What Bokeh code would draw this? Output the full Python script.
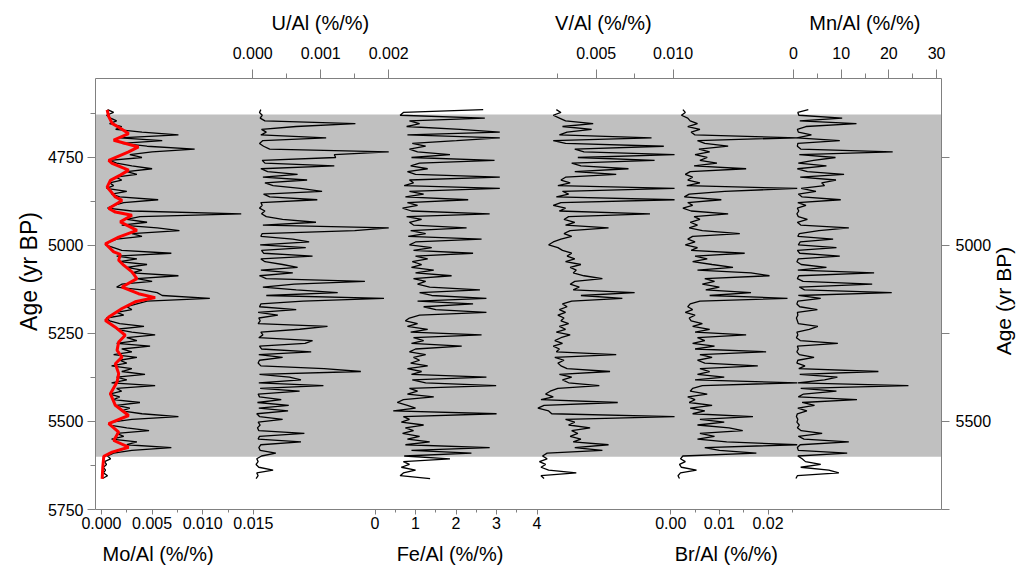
import math
from bokeh.plotting import figure
from bokeh.models import Range1d, LinearAxis, FixedTicker, BoxAnnotation
from bokeh.embed import file_html
from bokeh.resources import INLINE

# ---------------- data ----------------
ages = list(range(4614, 5663, 8))  # sample ages (yr BP), 132 samples

mo = [0.0006,0.0012,0.0005,0.0009,0.0015,0.0008,0.0020,0.0014,0.0040,0.0076,
      0.0018,0.0060,0.0020,0.0045,0.0092,0.0050,0.0028,0.0040,0.0008,0.0015,
      0.0030,0.0050,0.0025,0.0035,0.0014,0.0020,0.0008,0.0012,0.0005,0.0025,
      0.0010,0.0018,0.0056,0.0022,0.0012,0.0006,0.0030,0.0138,0.0038,0.0025,
      0.0045,0.0020,0.0055,0.0077,0.0030,0.0040,0.0015,0.0008,0.0004,0.0012,
      0.0020,0.0069,0.0015,0.0035,0.0018,0.0045,0.0025,0.0040,0.0030,0.0076,
      0.0035,0.0050,0.0020,0.0015,0.0040,0.0055,0.0060,0.0107,0.0045,0.0035,
      0.0025,0.0030,0.0015,0.0022,0.0005,0.0008,0.0018,0.0042,0.0015,0.0030,
      0.0053,0.0025,0.0035,0.0015,0.0048,0.0020,0.0030,0.0012,0.0035,0.0018,
      0.0025,0.0010,0.0030,0.0020,0.0043,0.0015,0.0025,0.0010,0.0053,0.0015,
      0.0020,0.0008,0.0018,0.0012,0.0038,0.0015,0.0028,0.0020,0.0040,0.0076,
      0.0030,0.0010,0.0008,0.0025,0.0047,0.0015,0.0022,0.0010,0.0035,0.0025,
      0.0069,0.0030,0.0012,0.0006,0.0009,0.0003,0.0005,0.0002,0.0004,0.0002,
      0.0006,0.0001]

mo_smooth_age = [4615,4634,4653,4667,4682,4701,4720,4734,4758,4767,4786,4800,4815,
                 4834,4862,4872,4895,4905,4914,4933,4957,4976,4995,5018,5025,5042,
                 5056,5075,5094,5118,5137,5148,5160,5179,5203,5213,5232,5255,5274,
                 5298,5317,5336,5364,5388,5421,5454,5483,5506,5530,5554,5573,5587,
                 5599,5630,5663]
mo_smooth = [0.00056,0.00072,0.00105,0.00186,0.00268,0.00121,0.00366,0.00268,0.00072,
             0.00105,0.00268,0.00186,0.00088,0.00056,0.00137,0.00203,0.00072,0.00137,
             0.00301,0.00186,0.00350,0.00170,0.00039,0.00121,0.00186,0.00170,0.00219,
             0.00301,0.00350,0.00203,0.00366,0.00530,0.00333,0.00203,0.00072,0.00039,
             0.00137,0.00235,0.00170,0.00154,0.00203,0.00137,0.00170,0.00154,0.00088,
             0.00137,0.00268,0.00072,0.00170,0.00121,0.00268,0.00105,0.00023,0.00013,
             0.00007]

u = [0.00012,0.00010,0.00014,0.00011,0.00018,0.00151,0.00064,0.00013,0.00020,0.00012,
     0.00108,0.00015,0.00010,0.00016,0.00025,0.00200,0.00120,0.00122,0.00014,0.00018,
     0.00120,0.00012,0.00022,0.00066,0.00015,0.00080,0.00018,0.00030,0.00070,0.00102,
     0.00016,0.00025,0.00095,0.00012,0.00014,0.00010,0.00018,0.00013,0.00020,0.00044,
     0.00093,0.00015,0.00200,0.00150,0.00014,0.00012,0.00059,0.00083,0.00011,0.00078,
     0.00013,0.00016,0.00088,0.00012,0.00018,0.00044,0.00066,0.00012,0.00059,0.00010,
     0.00020,0.00165,0.00061,0.00015,0.00064,0.00125,0.00020,0.00193,0.00074,0.00012,
     0.00010,0.00064,0.00008,0.00037,0.00009,0.00011,0.00008,0.00110,0.00069,0.00012,
     0.00015,0.00009,0.00088,0.00077,0.00010,0.00013,0.00086,0.00009,0.00044,0.00010,
     0.00008,0.00012,0.00105,0.00159,0.00010,0.00054,0.00071,0.00009,0.00104,0.00011,
     0.00069,0.00008,0.00010,0.00042,0.00007,0.00053,0.00009,0.00052,0.00006,0.00010,
     0.00044,0.00008,0.00011,0.00007,0.00009,0.00076,0.00010,0.00008,0.00071,0.00012,
     0.00009,0.00011,0.00034,0.00013,0.00006,0.00008,0.00005,0.00009,0.00030,0.00006,
     0.00008,0.00005]

fe = [2.67,0.70,0.62,2.71,0.85,1.10,0.78,2.10,3.08,0.80,
      3.08,2.01,0.92,1.25,0.85,1.05,1.85,0.90,2.95,1.10,
      0.88,1.30,0.80,1.00,3.08,0.85,0.95,0.72,3.08,0.85,
      1.20,0.75,2.30,0.80,1.05,0.68,0.90,2.83,0.78,1.15,
      0.85,0.95,2.26,0.88,1.25,0.82,2.63,1.00,0.85,1.40,
      0.95,2.42,1.00,1.30,0.92,1.15,0.90,1.45,1.00,1.89,
      0.95,1.25,1.05,1.35,2.59,1.10,1.40,2.75,1.05,2.42,
      1.20,1.50,2.75,1.10,0.85,0.75,1.05,0.80,1.30,0.88,
      2.63,0.95,1.20,0.90,2.14,1.00,0.85,1.25,0.95,1.10,
      0.88,1.30,0.80,1.15,0.90,2.75,0.92,1.25,2.99,0.85,
      1.05,0.80,1.45,0.70,0.55,0.80,1.00,0.45,3.00,0.70,
      0.85,0.65,1.20,0.75,0.95,0.68,1.10,0.80,1.35,0.75,
      2.83,0.90,2.38,0.72,1.85,0.70,0.85,0.65,1.00,0.70,
      0.62,1.36]

v = [0.0024,0.0027,0.0022,0.0026,0.0030,0.0048,0.0028,0.0047,0.0031,0.0026,
     0.0086,0.0022,0.0030,0.0094,0.0036,0.0042,0.0101,0.0038,0.0088,0.0034,
     0.0040,0.0071,0.0036,0.0063,0.0030,0.0027,0.0033,0.0025,0.0101,0.0028,
     0.0032,0.0024,0.0101,0.0027,0.0022,0.0030,0.0026,0.0085,0.0032,0.0029,
     0.0036,0.0030,0.0058,0.0033,0.0029,0.0034,0.0027,0.0022,0.0019,0.0025,
     0.0028,0.0034,0.0031,0.0036,0.0030,0.0040,0.0033,0.0037,0.0035,0.0042,
     0.0054,0.0036,0.0033,0.0039,0.0035,0.0075,0.0040,0.0067,0.0034,0.0028,
     0.0031,0.0026,0.0030,0.0025,0.0029,0.0027,0.0032,0.0026,0.0030,0.0024,
     0.0033,0.0027,0.0023,0.0028,0.0022,0.0026,0.0024,0.0063,0.0023,0.0029,
     0.0025,0.0027,0.0031,0.0059,0.0026,0.0034,0.0028,0.0032,0.0052,0.0025,
     0.0020,0.0017,0.0022,0.0014,0.0064,0.0016,0.0012,0.0019,0.0021,0.0101,
     0.0030,0.0036,0.0032,0.0046,0.0034,0.0038,0.0033,0.0040,0.0035,0.0058,
     0.0036,0.0054,0.0018,0.0015,0.0018,0.0013,0.0017,0.0014,0.0019,0.0037,
     0.0014,0.0016]

br = [0.0025,0.0030,0.0022,0.0035,0.0040,0.0055,0.0035,0.0060,0.0042,0.0050,
      0.0260,0.0055,0.0070,0.0118,0.0058,0.0080,0.0050,0.0075,0.0060,0.0095,
      0.0048,0.0155,0.0040,0.0030,0.0045,0.0035,0.0060,0.0033,0.0260,0.0111,
      0.0038,0.0028,0.0104,0.0035,0.0045,0.0025,0.0042,0.0118,0.0048,0.0060,
      0.0040,0.0055,0.0038,0.0065,0.0142,0.0045,0.0035,0.0050,0.0030,0.0055,
      0.0042,0.0152,0.0050,0.0075,0.0045,0.0085,0.0128,0.0055,0.0165,0.0203,
      0.0070,0.0090,0.0065,0.0100,0.0072,0.0165,0.0080,0.0240,0.0060,0.0040,
      0.0035,0.0045,0.0030,0.0050,0.0038,0.0042,0.0065,0.0045,0.0080,0.0050,
      0.0155,0.0055,0.0070,0.0045,0.0090,0.0050,0.0196,0.0060,0.0085,0.0055,
      0.0070,0.0179,0.0060,0.0080,0.0055,0.0110,0.0050,0.0260,0.0065,0.0045,
      0.0040,0.0075,0.0035,0.0050,0.0038,0.0085,0.0040,0.0070,0.0045,0.0169,
      0.0060,0.0110,0.0055,0.0120,0.0148,0.0060,0.0090,0.0055,0.0115,0.0260,
      0.0070,0.0100,0.0176,0.0025,0.0020,0.0030,0.0018,0.0022,0.0053,0.0020,
      0.0015,0.0018]

mn = [3.1,0.9,1.1,10.2,1.3,13.2,2.6,0.8,1.0,3.75,
      0.7,9.7,0.9,0.8,1.5,20.8,1.2,8.8,4.2,1.0,
      6.9,0.8,2.9,10.6,1.4,8.9,5.9,6.5,1.6,4.7,
      1.0,1.8,9.9,0.9,2.6,0.8,1.1,0.7,1.0,2.9,
      0.8,1.5,11.6,5.3,1.2,0.9,8.3,1.4,1.0,9.0,
      0.8,1.3,9.7,1.0,0.7,1.6,6.9,0.9,16.9,1.1,
      0.8,2.0,16.5,1.2,2.3,20.6,1.0,5.7,0.9,0.7,
      1.3,5.0,0.8,0.9,0.6,0.8,1.0,5.1,3.3,0.7,
      0.9,0.6,1.4,9.3,0.8,1.0,0.7,1.2,4.3,0.9,
      0.7,2.4,1.1,17.8,1.3,9.2,6.5,0.9,24.1,1.5,
      9.0,2.1,1.0,13.3,1.8,4.4,0.9,2.8,0.8,0.6,
      0.9,0.7,1.2,0.8,1.6,6.0,1.0,2.2,11.6,1.4,
      0.8,1.0,11.25,0.9,1.8,2.5,5.7,1.5,7.4,9.5,
      0.8,0.5]

# axis ticks / labels per track
mo_ticks, mo_minor, mo_labels = [0.0, 0.005, 0.010, 0.015], [0.0025, 0.0075, 0.0125], ["0.000", "0.005", "0.010", "0.015"]
fe_ticks, fe_minor, fe_labels = [0, 1, 2, 3, 4], [0.5, 1.5, 2.5, 3.5], ["0", "1", "2", "3", "4"]
br_ticks, br_minor, br_labels = [0.0, 0.01, 0.02], [0.005, 0.015, 0.025], ["0.00", "0.01", "0.02"]
u_ticks, u_minor, u_labels = [0.0, 0.001, 0.002], [0.0005, 0.0015], ["0.000", "0.001", "0.002"]
v_ticks, v_minor, v_labels = [0.005, 0.010], [0.0025, 0.0075], ["0.005", "0.010"]
mn_ticks, mn_minor, mn_labels = [0, 10, 20, 30], [5, 15, 25], ["0", "10", "20", "30"]
age_ticks = [4750, 5000, 5250, 5500, 5750]
age_minor = [4625, 4875, 5125, 5375, 5625]
right_labels = {4750: "", 5000: "5000", 5250: "", 5500: "5500", 5750: ""}
age_title = "Age (yr BP)"

# ---------------- layout of tracks (frame px: zero position, px per unit) ----------------
W = 852.0
TRACK = {"mo": (6.0, 10200.0), "u": (158.3, 68500.0), "fe": (281.5, 40.8),
         "v": (427.0, 15460.0), "br": (579.3, 4900.0), "mn": (703.0, 4.8)}

def track_range(name):
    z, k = TRACK[name]
    return Range1d(start=-z / k, end=(W - z) / k)

def pos(name, val):
    z, k = TRACK[name]
    return round(z + val * k, 2)

FONT = "Liberation Sans"
AX = "#808080"

p = figure(width=1029, height=571, x_range=Range1d(0, W), y_range=Range1d(5750, 4525.6),
           x_axis_location=None, y_axis_location=None, toolbar_location=None,
           output_backend="svg", min_border_left=93, min_border_right=84,
           min_border_top=78, min_border_bottom=62)
p.outline_line_color = None
p.background_fill_color = "white"
for g in p.grid:
    g.visible = False
p.extra_x_ranges = {n: track_range(n) for n in TRACK}

p.add_layout(BoxAnnotation(top=4628, bottom=5600, fill_color="#c0c0c0", fill_alpha=1.0,
                           line_color=None, level="underlay"))

for name, data in [("mo", mo), ("u", u), ("fe", fe), ("v", v), ("br", br), ("mn", mn)]:
    p.line(data, ages, x_range_name=name, line_color="black", line_width=1.3)
p.line(mo_smooth, mo_smooth_age, x_range_name="mo", line_color="#ff0000", line_width=3)


def style(ax, out, minor_out, size="16px"):
    ax.axis_line_color = AX
    ax.major_tick_line_color = AX
    ax.minor_tick_line_color = AX
    ax.major_tick_in = 0
    ax.minor_tick_in = 0
    ax.major_tick_out = out
    ax.minor_tick_out = minor_out
    ax.major_label_text_font = FONT
    ax.major_label_text_font_size = size
    ax.major_label_text_color = "black"


def title_axis(centers, texts, size="20px"):
    ax = LinearAxis(ticker=FixedTicker(ticks=centers, minor_ticks=[]),
                    major_label_overrides=dict(zip(centers, texts)))
    ax.axis_line_color = None
    ax.major_tick_line_color = None
    ax.minor_tick_line_color = None
    ax.major_tick_out = 0
    ax.minor_tick_out = 0
    ax.major_label_text_font = FONT
    ax.major_label_text_font_size = size
    ax.major_label_text_color = "black"
    return ax

# bottom tick axis (Mo, Fe, Br)
b_major, b_minor, b_lab = [], [], {}
for name, t, m, l in [("mo", mo_ticks, mo_minor, mo_labels), ("fe", fe_ticks, fe_minor, fe_labels),
                      ("br", br_ticks, br_minor, br_labels)]:
    for val, lab in zip(t, l):
        x = pos(name, val)
        b_major.append(x)
        b_lab[x] = lab
    b_minor += [pos(name, val) for val in m]
ax_b = LinearAxis(ticker=FixedTicker(ticks=b_major, minor_ticks=b_minor), major_label_overrides=b_lab)
style(ax_b, 5, 3)
ax_b.major_label_standoff = 2
p.add_layout(ax_b, "below")
ax_bt = title_axis([63.0, 357.0, 635.3], ["Mo/Al (%/%)", "Fe/Al (%/%)", "Br/Al (%/%)"])
ax_bt.major_label_standoff = 11
p.add_layout(ax_bt, "below")

# top tick axis (U, V, Mn)
t_major, t_minor, t_lab = [], [], {}
for name, t, m, l in [("u", u_ticks, u_minor, u_labels), ("v", v_ticks, v_minor, v_labels),
                      ("mn", mn_ticks, mn_minor, mn_labels)]:
    for val, lab in zip(t, l):
        x = pos(name, val)
        t_major.append(x)
        t_lab[x] = lab
    t_minor += [pos(name, val) for val in m]
ax_t = LinearAxis(ticker=FixedTicker(ticks=t_major, minor_ticks=t_minor), major_label_overrides=t_lab)
style(ax_t, 9, 5)
ax_t.major_label_standoff = 11
p.add_layout(ax_t, "above")
ax_tt = title_axis([226.5, 511.5, 774.8], ["U/Al (%/%)", "V/Al (%/%)", "Mn/Al (%/%)"])
ax_tt.major_label_standoff = 10
p.add_layout(ax_tt, "above")

# left / right age axes
ax_l = LinearAxis(ticker=FixedTicker(ticks=age_ticks, minor_ticks=age_minor))
style(ax_l, 8, 5)
ax_l.major_label_standoff = 4
p.add_layout(ax_l, "left")
ax_lt = title_axis([4905], [age_title], size="23px")
ax_lt.major_label_orientation = math.pi / 2
ax_lt.major_label_standoff = 15
p.add_layout(ax_lt, "left")

ax_r = LinearAxis(ticker=FixedTicker(ticks=age_ticks, minor_ticks=[]), major_label_overrides=right_labels)
style(ax_r, 8, 5)
ax_r.major_label_standoff = 6
p.add_layout(ax_r, "right")
ax_rt = title_axis([5312], [age_title], size="21px")
ax_rt.major_label_orientation = math.pi / 2
ax_rt.major_label_standoff = 9
p.add_layout(ax_rt, "right")

open("out.html", "w").write(file_html(p, INLINE))
